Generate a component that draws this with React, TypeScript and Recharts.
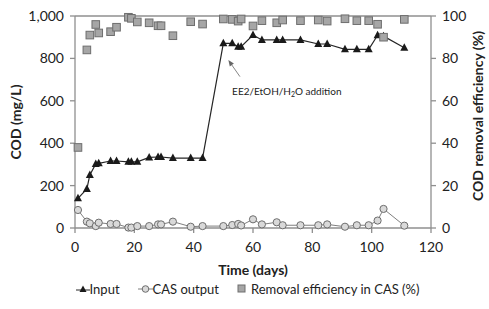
import { ComposedChart, Line, XAxis, YAxis, Legend, ReferenceLine, ReferenceDot } from "recharts";

// sampling days and the three measured series
const days = [1, 4, 5, 7, 8, 12, 14, 18, 19, 21, 25, 28, 29, 33, 39, 43, 50, 53, 55, 56, 60, 63, 68, 70, 76, 82, 85, 91, 95, 99, 102, 104, 111];
const inputCod = [140, 184, 250, 302, 305, 316, 316, 312, 312, 312, 333, 335, 335, 330, 330, 330, 871, 871, 855, 855, 910, 887, 887, 887, 887, 868, 868, 843, 843, 843, 909, 905, 850];
const casOutput = [85, 30, 22, 9, 25, 19, 19, 2, 2, 9, 9, 17, 17, 30, 6, 9, 9, 14, 19, 12, 41, 17, 27, 13, 13, 13, 17, 6, 13, 13, 35, 90, 11];
const removalEff = [38, 84, 91, 96, 92, 92.6, 94.7, 99.4, 98.9, 97.2, 96.8, 95.4, 95.4, 90.7, 97.3, 96.2, 98.6, 98.4, 97.6, 98.6, 95.3, 97.8, 96.8, 98.1, 97.8, 98.1, 97.6, 98.7, 97.8, 97.8, 96.1, 90, 98.4];

const xTicks = [0, 20, 40, 60, 80, 100, 120];
const codTicks = [0, 200, 400, 600, 800, 1000];
const effTicks = [0, 20, 40, 60, 80, 100];

const data = days.map((d, i) => ({ day: d, input: inputCod[i], cas: casOutput[i], removal: removalEff[i] }));

const FONT = "Lato, 'Open Sans', sans-serif";
const AXIS = "#8f8f8f";
const INK = "#222";

const Triangle = (p: any) => {
  const { cx, cy } = p;
  if (cx == null || cy == null) return null;
  return <polygon key={`t${p.index}`} points={`${cx},${cy - 4.5} ${cx + 4},${cy + 3} ${cx - 4},${cy + 3}`} fill="#1a1a1a" />;
};

const Circle = (p: any) => {
  const { cx, cy } = p;
  if (cx == null || cy == null) return null;
  return <circle key={`c${p.index}`} cx={cx} cy={cy} r={3.6} fill="#d9d9d9" stroke="#6e6e6e" strokeWidth={1} />;
};

const Square = (p: any) => {
  const { cx, cy } = p;
  if (cx == null || cy == null) return null;
  return <rect key={`s${p.index}`} x={cx - 3.8} y={cy - 3.8} width={7.6} height={7.6} fill="#a6a6a6" stroke="#6e6e6e" strokeWidth={1} />;
};

const Arrow = (p: any) => {
  const { x1, y1, x2, y2 } = p;
  const ang = Math.atan2(y2 - y1, x2 - x1);
  const L = 6, W = 2.5;
  const bx = x2 - L * Math.cos(ang), by = y2 - L * Math.sin(ang);
  const px = -Math.sin(ang) * W, py = Math.cos(ang) * W;
  return (
    <g>
      <line x1={x1} y1={y1} x2={bx} y2={by} stroke="#666" strokeWidth={0.8} />
      <polygon points={`${x2},${y2} ${bx + px},${by + py} ${bx - px},${by - py}`} fill="#666" />
    </g>
  );
};

const AnnotationText = ({ viewBox }: any) => (
  <text x={viewBox.x} y={viewBox.y + 1} fontSize={10} fill={INK} fontFamily={FONT} dominantBaseline="middle">
    <tspan>EE2/EtOH/H</tspan>
    <tspan fontSize={7} dy={3}>2</tspan>
    <tspan dy={-3}>O addition</tspan>
  </text>
);

const LeftTitle = ({ viewBox }: any) => {
  const x = viewBox.x + 17;
  const y = viewBox.y + viewBox.height / 2;
  return (
    <text x={x} y={y} transform={`rotate(-90, ${x}, ${y})`} textAnchor="middle" dominantBaseline="middle" fontSize={14} fontWeight="bold" fill={INK} fontFamily={FONT}>
      COD (mg/L)
    </text>
  );
};

const RightTitle = ({ viewBox }: any) => {
  const x = viewBox.x + 48;
  const y = viewBox.y + viewBox.height / 2 - 6;
  return (
    <text x={x} y={y} transform={`rotate(-90, ${x}, ${y})`} textAnchor="middle" dominantBaseline="middle" fontSize={14} fontWeight="bold" fill={INK} fontFamily={FONT}>
      COD removal efficiency (%)
    </text>
  );
};

const LegendBox = () => (
  <div style={{ display: "flex", justifyContent: "center", alignItems: "center", gap: 18, height: 22, paddingLeft: 6, fontFamily: FONT, fontSize: 13, color: INK }}>
    <span style={{ display: "flex", alignItems: "center" }}>
      <svg width={14} height={10}>
        <line x1={0} y1={6} x2={14} y2={6} stroke="#262626" strokeWidth={1} />
        <polygon points="7,1.5 10.5,8 3.5,8" fill="#1a1a1a" />
      </svg>
      Input
    </span>
    <span style={{ display: "flex", alignItems: "center" }}>
      <svg width={15} height={10}>
        <line x1={0} y1={5} x2={15} y2={5} stroke="#7f7f7f" strokeWidth={1} />
        <circle cx={7.5} cy={5} r={3.3} fill="#d9d9d9" stroke="#6e6e6e" />
      </svg>
      CAS output
    </span>
    <span style={{ display: "flex", alignItems: "center", gap: 5 }}>
      <svg width={9} height={10}>
        <rect x={1} y={1} width={7} height={7} fill="#a6a6a6" stroke="#6e6e6e" />
      </svg>
      Removal efficiency in CAS (%)
    </span>
  </div>
);

export default function App() {
  return (
    <div style={{ position: "absolute", left: 0, top: 0, width: 489, height: 309, background: "#fff" }}>
      <ComposedChart width={489} height={309} data={data} margin={{ top: 16, right: 0, bottom: 9, left: 0 }} style={{ fontFamily: FONT }}>
        <XAxis
          dataKey="day"
          type="number"
          domain={[0, 120]}
          ticks={xTicks}
          height={50}
          stroke={AXIS}
          strokeWidth={1.3}
          tickSize={5}
          tickMargin={9}
          tick={{ fill: INK, fontSize: 14 }}
          label={{ value: "Time (days)", position: "insideBottom", offset: 3, fontSize: 14, fontWeight: "bold", fill: INK }}
        />
        <YAxis
          yAxisId="left"
          domain={[0, 1000]}
          ticks={codTicks}
          width={75}
          stroke={AXIS}
          strokeWidth={1.3}
          tickSize={5}
          tickMargin={6}
          tick={{ fill: INK, fontSize: 14 }}
          tickFormatter={(v: number) => v.toLocaleString("en-US")}
          label={{ content: LeftTitle }}
        />
        <YAxis
          yAxisId="right"
          orientation="right"
          domain={[0, 100]}
          ticks={effTicks}
          width={58}
          stroke={AXIS}
          strokeWidth={1.3}
          tickSize={5}
          tickMargin={6}
          tick={{ fill: INK, fontSize: 14 }}
          label={{ content: RightTitle }}
        />
        <ReferenceLine yAxisId="left" y={1000} stroke={AXIS} strokeWidth={1.3} />
        <Legend verticalAlign="bottom" content={LegendBox} />
        <Line yAxisId="left" dataKey="input" stroke="#262626" strokeWidth={1.2} dot={Triangle} isAnimationActive={false} />
        <Line yAxisId="left" dataKey="cas" stroke="#7f7f7f" strokeWidth={1} dot={Circle} isAnimationActive={false} />
        <Line yAxisId="right" dataKey="removal" stroke="none" dot={Square} isAnimationActive={false} />
        <ReferenceLine yAxisId="left" segment={[{ x: 55.6, y: 714 }, { x: 51.7, y: 792 }]} shape={Arrow} />
        <ReferenceDot yAxisId="left" x={53.3} y={641} r={1} fill="none" stroke="none" label={{ content: AnnotationText }} />
      </ComposedChart>
    </div>
  );
}
